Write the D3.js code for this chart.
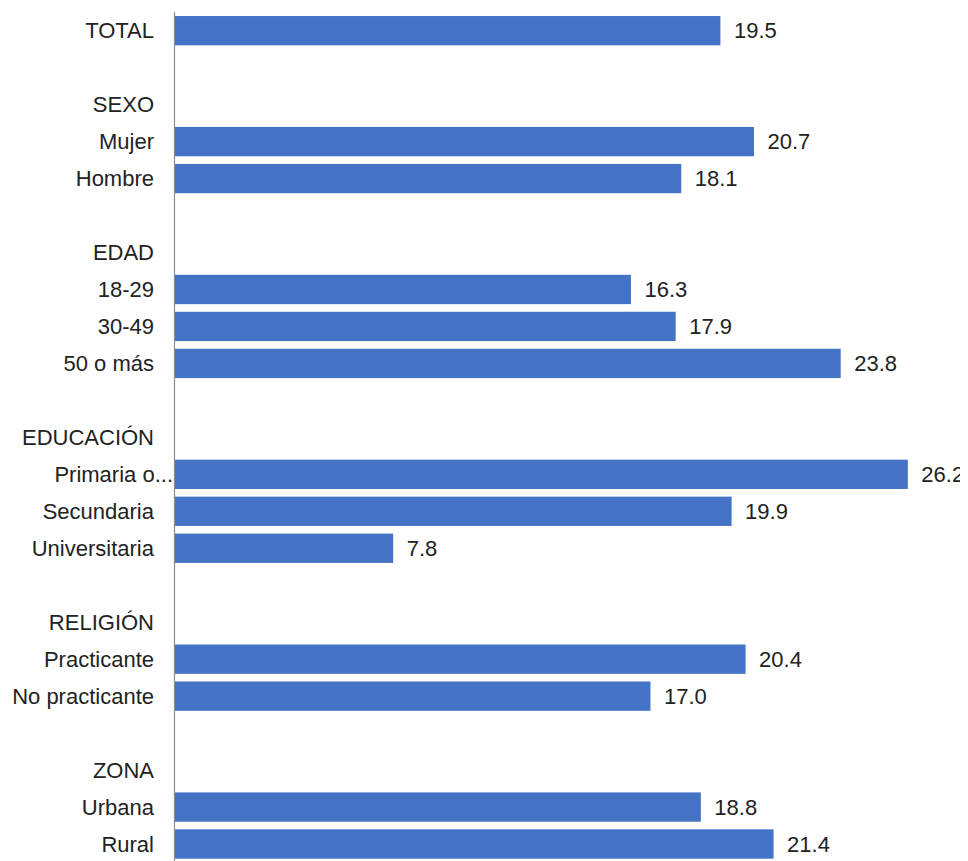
<!DOCTYPE html>
<html>
<head>
<meta charset="utf-8">
<script src="https://cdn.jsdelivr.net/npm/d3@7"></script>
<style>
  html, body { margin: 0; padding: 0; background: #ffffff; }
  svg { display: block; }
</style>
</head>
<body>
<svg id="chart" width="968" height="861"></svg>
<script>
const categories = ["TOTAL", "", "SEXO", "Mujer", "Hombre", "", "EDAD", "18-29", "30-49", "50 o más", "",
  "EDUCACIÓN", "Primaria o...", "Secundaria", "Universitaria", "", "RELIGIÓN", "Practicante",
  "No practicante", "", "ZONA", "Urbana", "Rural"];
const values = [19.5, null, null, 20.7, 18.1, null, null, 16.3, 17.9, 23.8, null,
  null, 26.2, 19.9, 7.8, null, null, 20.4, 17.0, null, null, 18.8, 21.4];
const xDomain = [0, 28];

const svg = d3.select("#chart");
const axisX = 175;
const fontSize = 22;
const fontFamily = "'Liberation Sans', Arial, sans-serif";

svg.append("defs").append("clipPath").attr("id", "clip")
  .append("rect").attr("x", 0).attr("y", 0).attr("width", 960).attr("height", 861);

const root = svg.append("g").attr("clip-path", "url(#clip)");

const rows = categories.map((c, i) => ({ i, label: c, value: values[i] }));

const y = d3.scaleBand()
  .domain(rows.map(d => d.i))
  .range([12.2, 862.5])
  .paddingInner(0.207)
  .paddingOuter(0.1035);

const x = d3.scaleLinear().domain(xDomain).range([axisX, axisX + 27.97 * 28]);

// bars
root.append("g").selectAll("rect")
  .data(rows.filter(d => d.value !== null))
  .join("rect")
  .attr("x", x(0))
  .attr("y", d => y(d.i))
  .attr("width", d => x(d.value) - x(0))
  .attr("height", y.bandwidth())
  .attr("fill", "#4472c4");

// value labels
root.append("g").selectAll("text")
  .data(rows.filter(d => d.value !== null))
  .join("text")
  .attr("x", d => x(d.value) + 13.5)
  .attr("y", d => y(d.i) + y.bandwidth() / 2)
  .attr("dy", "0.35em")
  .attr("font-family", fontFamily)
  .attr("font-size", fontSize)
  .attr("fill", "#222222")
  .text(d => d3.format(".1f")(d.value));

// category labels
root.append("g").selectAll("text")
  .data(rows.filter(d => d.label !== ""))
  .join("text")
  .attr("x", d => d.label.endsWith("...") ? axisX - 2 : axisX - 21)
  .attr("y", d => y(d.i) + y.bandwidth() / 2)
  .attr("dy", "0.35em")
  .attr("text-anchor", "end")
  .attr("font-family", fontFamily)
  .attr("font-size", fontSize)
  .attr("fill", "#222222")
  .text(d => d.label);

// axis line
root.append("line")
  .attr("x1", axisX - 0.5).attr("x2", axisX - 0.5)
  .attr("y1", 12).attr("y2", 861)
  .attr("stroke", "#8c8c8c")
  .attr("stroke-width", 1.2);
</script>
</body>
</html>
